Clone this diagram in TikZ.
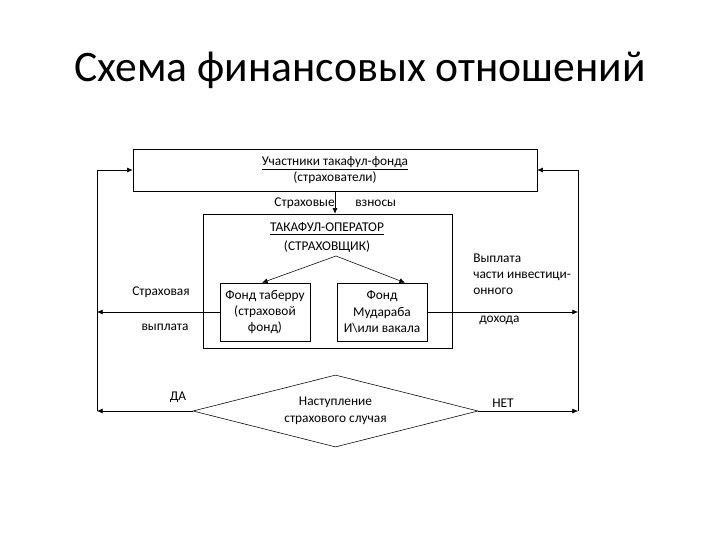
\documentclass[tikz,border=0pt]{standalone}
\usepackage{fontspec}
\setmainfont{Carlito}
\usetikzlibrary{arrows.meta,positioning,shapes.geometric}

\begin{document}
\begin{tikzpicture}[x=0.025cm,y=-0.025cm,
    font=\fontsize{9.5}{12}\selectfont,
    box/.style={draw,thin,inner sep=0pt,align=center},
    lbl/.style={inner sep=0pt,align=center},
    arr/.style={thin,-{Latex[length=4pt,width=3.5pt]}}]
      \useasboundingbox (0,0) rectangle (720,540);
      % Title
      \node[lbl,font=\fontsize{31}{36}\selectfont] (title) at (360,70) {Схема финансовых отношений};
      % Boxes
      \node[box,minimum width=10.1cm,minimum height=1.05cm] (ucht) at (335,170) {\underline{Участники такафул-фонда}\\(страхователи)};
      \node[box,minimum width=6.225cm,minimum height=3.35cm] (oper) at (327.5,281) {};
      \node[lbl,font=\fontsize{9.5}{13.5}\selectfont] (operlbl) at (327,238) {\underline{ТАКАФУЛ-ОПЕРАТОР}\\(СТРАХОВЩИК)};
      \node[box,minimum width=2.25cm,minimum height=1.45cm,font=\fontsize{9.5}{11.7}\selectfont] (tab) at (265,312) {Фонд таберру\\(страховой\\фонд)};
      \node[box,minimum width=2.25cm,minimum height=1.45cm,font=\fontsize{9.5}{11.7}\selectfont] (mud) at (382,312) {Фонд\\Мудараба\\И\textbackslash{}или вакала};
      \node[draw,thin,shape=diamond,aspect=4,inner sep=0pt,minimum width=7.125cm,minimum height=1.8cm,align=center] (diam) at (335.5,411) {Наступление\\страхового случая};
      % Side lines
      \coordinate (lb) at (97,411);
      \coordinate (rb) at (578,411);
      \coordinate (spl) at (336,256);
      % Connectors
      \draw[arr] (lb) |- (ucht.west);
      \draw[arr] (rb) |- (ucht.east);
      \draw[arr] (ucht.south) -- (ucht.south |- oper.north);
      \draw[arr] (spl) -- ([xshift=-0.075cm]tab.north);
      \draw[arr] (spl) -- ([xshift=0.575cm]mud.north);
      \draw[arr] (tab.west) -- (tab.west -| lb);
      \draw[arr] (mud.east) -- (mud.east -| rb);
      \draw[arr] (diam.west) -- (lb);
      \draw[arr] (diam.east) -- (rb);
      % Labels
      \node[lbl,anchor=east] (vzn1) at (335,203) {Страховые};
      \node[lbl,anchor=west] (vzn2) at (355,203) {взносы};
      \node[lbl] (vypl1) at (161,292) {Страховая};
      \node[lbl] (vypl2) at (165,327) {выплата};
      \node[lbl,anchor=west,font=\fontsize{9.5}{11.5}\selectfont,align=left] (inv) at (473,274) {Выплата\\части инвестици-\\онного};
      \node[lbl,anchor=west] (dohod) at (479,320) {дохода};
      \node[lbl] (da) at (178,397) {ДА};
      \node[lbl] (net) at (503,403) {НЕТ};
\end{tikzpicture}
\end{document}
